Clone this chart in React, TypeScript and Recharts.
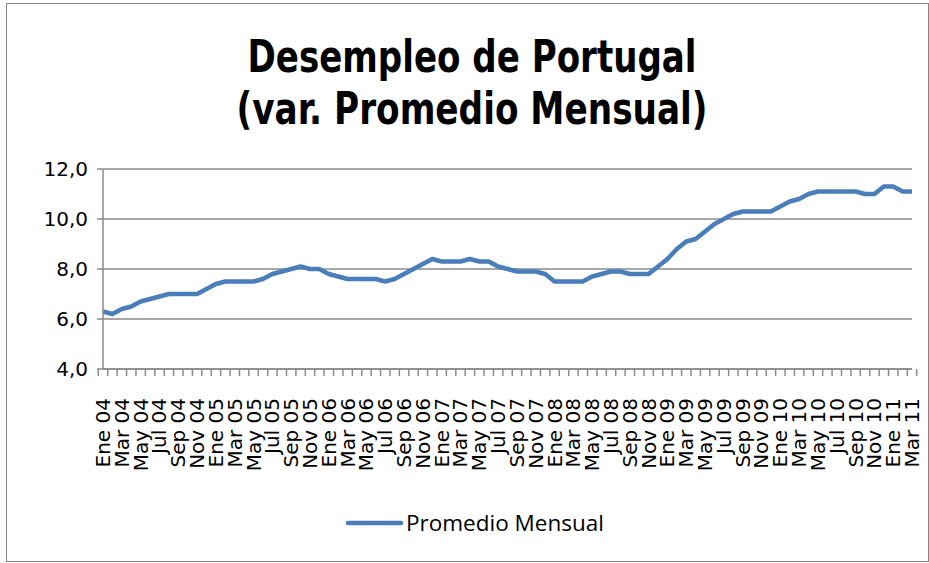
import { LineChart, Line, XAxis, YAxis, CartesianGrid } from 'recharts';

const monthNames = ['Ene', 'Feb', 'Mar', 'Abr', 'May', 'Jun', 'Jul', 'Ago', 'Sep', 'Oct', 'Nov', 'Dic'];
const yearLabels = ['04', '05', '06', '07', '08', '09', '10', '11'];

// desempleo mensual (%) por año
const paro2004 = [6.3, 6.2, 6.4, 6.5, 6.7, 6.8, 6.9, 7.0, 7.0, 7.0, 7.0, 7.2];
const paro2005 = [7.4, 7.5, 7.5, 7.5, 7.5, 7.6, 7.8, 7.9, 8.0, 8.1, 8.0, 8.0];
const paro2006 = [7.8, 7.7, 7.6, 7.6, 7.6, 7.6, 7.5, 7.6, 7.8, 8.0, 8.2, 8.4];
const paro2007 = [8.3, 8.3, 8.3, 8.4, 8.3, 8.3, 8.1, 8.0, 7.9, 7.9, 7.9, 7.8];
const paro2008 = [7.5, 7.5, 7.5, 7.5, 7.7, 7.8, 7.9, 7.9, 7.8, 7.8, 7.8, 8.1];
const paro2009 = [8.4, 8.8, 9.1, 9.2, 9.5, 9.8, 10.0, 10.2, 10.3, 10.3, 10.3, 10.3];
const paro2010 = [10.5, 10.7, 10.8, 11.0, 11.1, 11.1, 11.1, 11.1, 11.1, 11.0, 11.0, 11.3];
const paro2011 = [11.3, 11.1, 11.1];

const yTicks = [4, 6, 8, 10, 12];

const series = [paro2004, paro2005, paro2006, paro2007, paro2008, paro2009, paro2010, paro2011];
const data = series.flatMap((vals, y) =>
  vals.map((v, m) => ({ mes: `${monthNames[m]} ${yearLabels[y]}`, valor: v }))
);

const BLUE = '#4a7ebb';
const GRAY = '#8a8a8a';
const PLOT_W = 809;
const HALF_BAND = PLOT_W / data.length / 2;

const XTick = (props: any) => {
  const { x, y, payload, index } = props;
  const i = payload?.index ?? index;
  const last = i === data.length - 1;
  return (
    <g>
      <line x1={x - HALF_BAND} x2={x - HALF_BAND} y1={y} y2={y + 7} stroke={GRAY} strokeWidth={1.5} />
      {last && <line x1={x + HALF_BAND} x2={x + HALF_BAND} y1={y} y2={y + 7} stroke={GRAY} strokeWidth={1.5} />}
      {i % 2 === 0 && (
        <text
          x={x}
          y={y + 29}
          transform={`rotate(-90, ${x}, ${y + 29})`}
          textAnchor="end"
          dominantBaseline="central"
          fontSize={20}
          fontFamily="'DejaVu Sans', sans-serif"
          fill="#000"
        >
          {payload.value}
        </text>
      )}
    </g>
  );
};

export default function App() {
  return (
    <div style={{ position: 'absolute', left: 0, top: 0, width: 929, height: 563, background: '#fff', overflow: 'hidden' }}>
      <div style={{ position: 'absolute', left: 6, top: 3, width: 921, height: 557, border: '1px solid #868686' }} />
      <LineChart width={929} height={563} data={data} margin={{ top: 169, right: 17, bottom: 94, left: 0 }}>
        <CartesianGrid vertical={false} stroke={GRAY} strokeWidth={1.5} />
        <XAxis
          dataKey="mes"
          interval={0}
          height={100}
          tickSize={0}
          tickMargin={0}
          tick={<XTick />}
          axisLine={{ stroke: GRAY, strokeWidth: 1.5 }}
          tickLine={false}
        />
        <YAxis
          domain={[4, 12]}
          ticks={yTicks}
          width={103}
          tickSize={6}
          tickMargin={9}
          tickFormatter={(v: number) => v.toFixed(1).replace('.', ',')}
          tick={{ fill: '#000', fontSize: 20, fontFamily: "'DejaVu Sans', sans-serif" }}
          axisLine={{ stroke: GRAY, strokeWidth: 1.5 }}
          tickLine={{ stroke: GRAY, strokeWidth: 1.5 }}
        />
        <Line
          type="linear"
          dataKey="valor"
          name="Promedio Mensual"
          stroke={BLUE}
          strokeWidth={4.5}
          strokeLinejoin="round"
          dot={false}
          isAnimationActive={false}
        />
      </LineChart>
      <svg width={929} height={563} style={{ position: 'absolute', left: 0, top: 0, pointerEvents: 'none' }}>
        <g fontFamily="'Liberation Sans Narrow', 'DejaVu Sans Condensed', 'Liberation Sans', sans-serif" fontWeight="bold" fontSize={45} textAnchor="middle" fill="#000">
          <text x={472} y={72} textLength={449} lengthAdjust="spacingAndGlyphs">Desempleo de Portugal</text>
          <text x={472} y={124} textLength={471} lengthAdjust="spacingAndGlyphs">(var. Promedio Mensual)</text>
        </g>
        <line x1={348} x2={401} y1={523} y2={523} stroke={BLUE} strokeWidth={4.5} strokeLinecap="round" />
        <text x={406} y={531} fontSize={22.5} fontFamily="'Open Sans', sans-serif" fill="#000">Promedio Mensual</text>
      </svg>
    </div>
  );
}
